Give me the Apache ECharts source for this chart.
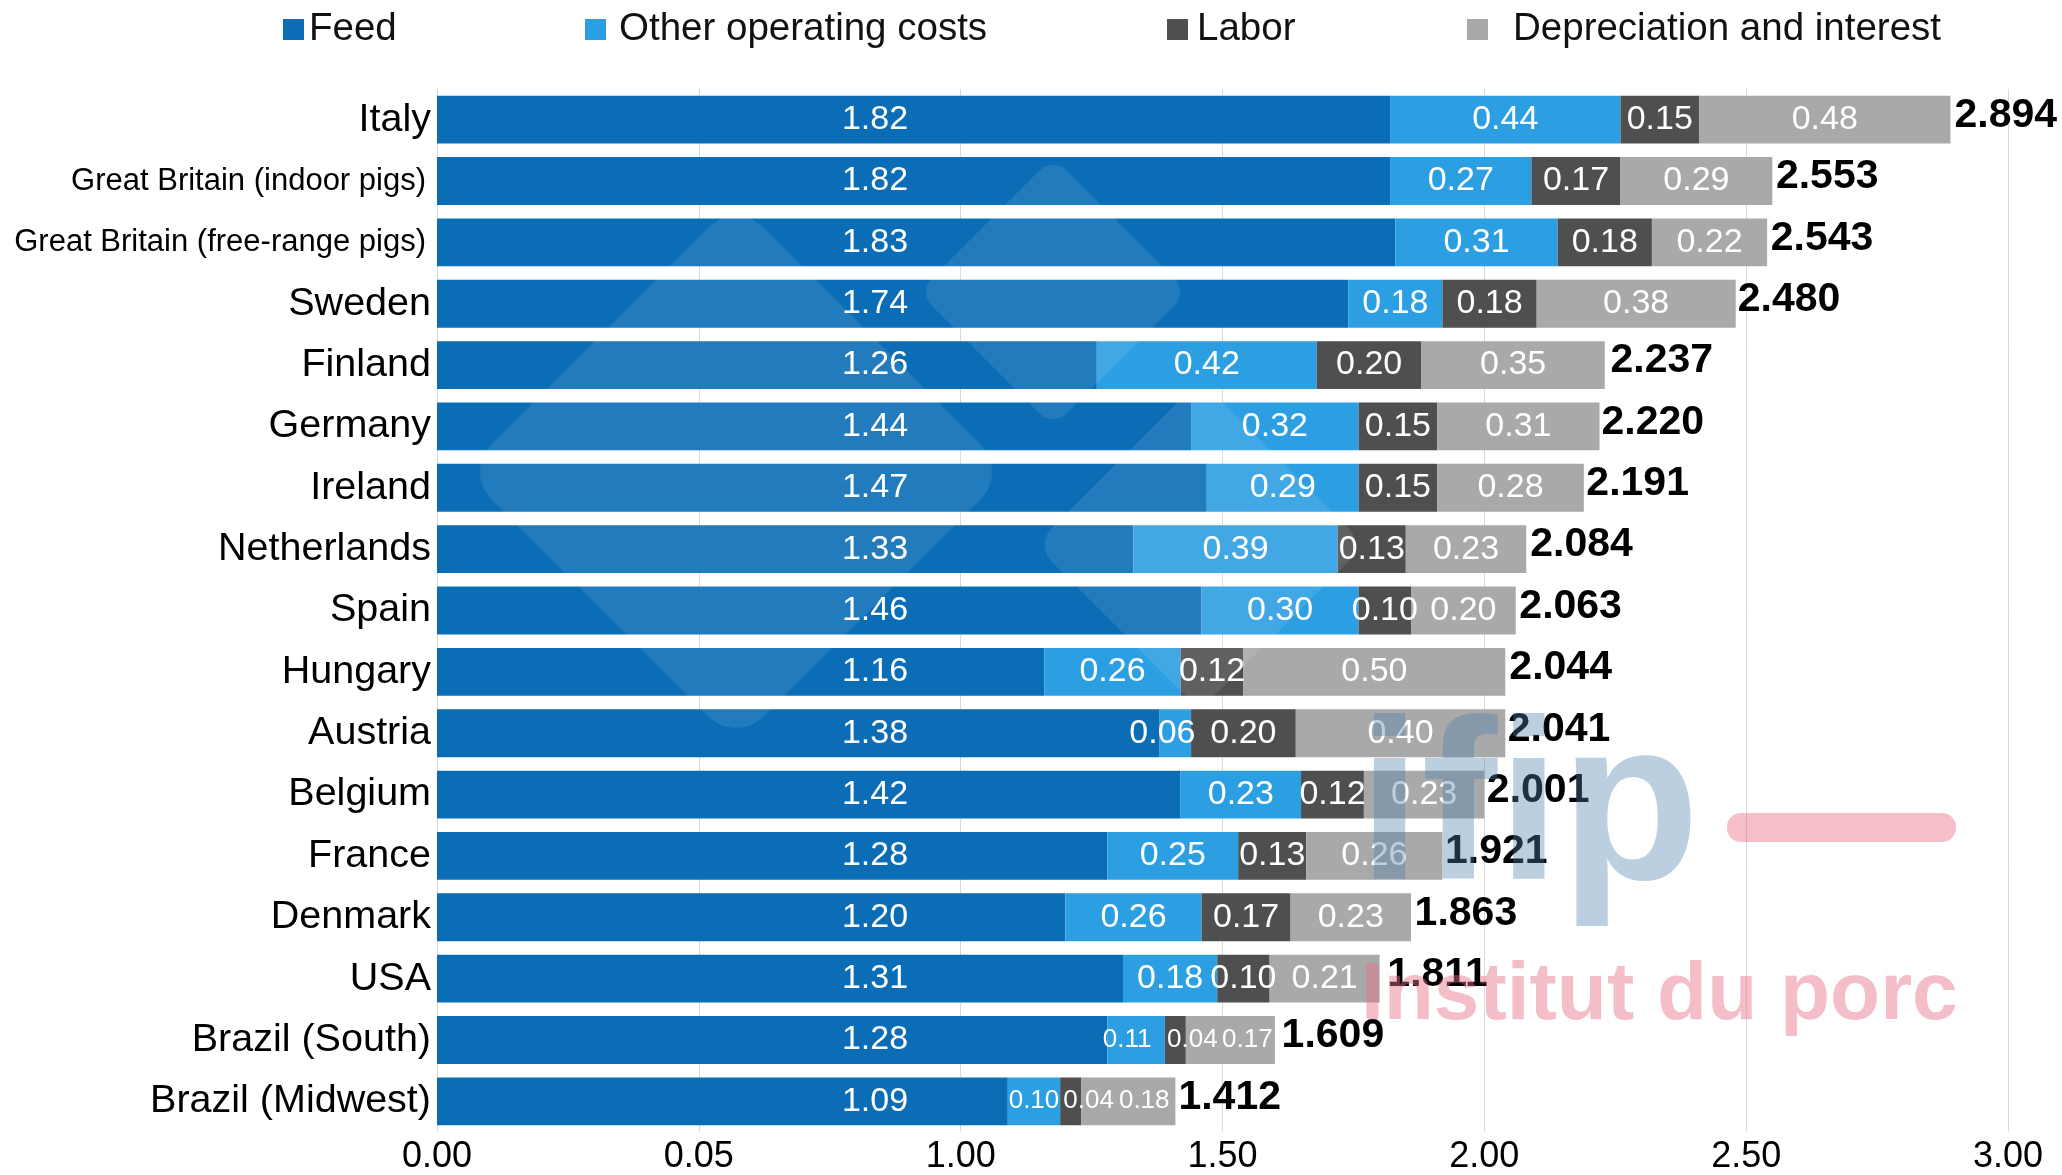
<!DOCTYPE html>
<html>
<head>
<meta charset="utf-8">
<script src="https://cdn.jsdelivr.net/npm/echarts@6/dist/echarts.min.js"></script>
<style>
  html, body { margin: 0; padding: 0; background: #ffffff; }
  #chart { width: 2062px; height: 1175px; }
</style>
</head>
<body>
<div id="chart"></div>
<script>
// Production cost of pork by country, stacked by cost component
const categories = [
  'Italy', 'Great Britain (indoor pigs)', 'Great Britain (free-range pigs)', 'Sweden',
  'Finland', 'Germany', 'Ireland', 'Netherlands', 'Spain', 'Hungary', 'Austria',
  'Belgium', 'France', 'Denmark', 'USA', 'Brazil (South)', 'Brazil (Midwest)'
];
const feed       = [1.82, 1.82, 1.83, 1.74, 1.26, 1.44, 1.47, 1.33, 1.46, 1.16, 1.38, 1.42, 1.28, 1.20, 1.31, 1.28, 1.09];
const otherCosts = [0.44, 0.27, 0.31, 0.18, 0.42, 0.32, 0.29, 0.39, 0.30, 0.26, 0.06, 0.23, 0.25, 0.26, 0.18, 0.11, 0.10];
const labor      = [0.15, 0.17, 0.18, 0.18, 0.20, 0.15, 0.15, 0.13, 0.10, 0.12, 0.20, 0.12, 0.13, 0.17, 0.10, 0.04, 0.04];
const deprec     = [0.48, 0.29, 0.22, 0.38, 0.35, 0.31, 0.28, 0.23, 0.20, 0.50, 0.40, 0.23, 0.26, 0.23, 0.21, 0.17, 0.18];
const totals     = [2.894, 2.553, 2.543, 2.480, 2.237, 2.220, 2.191, 2.084, 2.063, 2.044, 2.041, 2.001, 1.921, 1.863, 1.811, 1.609, 1.412];
const tickLabels = ['0.00', '0.05', '1.00', '1.50', '2.00', '2.50', '3.00'];

const seriesNames = ['Feed', 'Other operating costs', 'Labor', 'Depreciation and interest'];
const colors = ['#0a6db6', '#2c9fe2', '#4f4f4f', '#a9a9a9'];
const longNames = ['Great Britain (indoor pigs)', 'Great Britain (free-range pigs)'];
const compactRows = ['Brazil (South)', 'Brazil (Midwest)'];
// horizontal label shifts (px) where neighbouring segment labels would collide
const labelNudges = {
  'Austria': { 1: -13 },
  'Brazil (South)': { 1: -9, 2: 17, 3: 17 },
  'Brazil (Midwest)': { 2: 18, 3: 16 }
};

const FONT = "'Liberation Sans', Arial, sans-serif";

function segmentData(values, seriesIdx) {
  return values.map((v, i) => {
    const cat = categories[i];
    const label = {};
    if (seriesIdx > 0 && compactRows.includes(cat)) label.fontSize = 26;
    const dx = labelNudges[cat] && labelNudges[cat][seriesIdx];
    if (dx) label.offset = [dx, 0];
    return Object.keys(label).length ? { value: v, label: label } : v;
  });
}

function segmentSeries(idx, values, labelPos) {
  return {
    name: seriesNames[idx],
    type: 'bar',
    stack: 'cost',
    barCategoryGap: '22%',
    barGap: '-100%',
    itemStyle: { color: colors[idx] },
    label: {
      show: true,
      position: labelPos,
      align: 'center',
      verticalAlign: 'middle',
      color: '#ffffff',
      fontFamily: FONT,
      fontSize: 34,
      formatter: p => Number(p.value).toFixed(2)
    },
    emphasis: { disabled: true },
    data: segmentData(values, idx)
  };
}

// rounded diamond for the faint emblem behind the left half of the plot
function diamond(cx, cy, halfDiag) {
  const s = halfDiag * Math.SQRT2;
  return {
    type: 'rect', x: cx, y: cy, rotation: Math.PI / 4, z: 50, silent: true,
    shape: { x: -s / 2, y: -s / 2, width: s, height: s, r: s * 0.1 },
    style: { fill: 'rgba(255,255,255,0.10)' }
  };
}

const chart = echarts.init(document.getElementById('chart'), null, { renderer: 'canvas' });

function legendAt(name, left, textGap) {
  return {
    data: [name],
    left: left,
    top: 5,
    icon: 'rect',
    itemWidth: 21,
    itemHeight: 21,
    selectedMode: false,
    textStyle: { fontFamily: FONT, fontSize: 38.5, color: '#111', padding: [0, 0, 0, textGap] }
  };
}

chart.setOption({
  backgroundColor: '#ffffff',
  animation: false,
  color: colors,
  legend: [
    legendAt('Feed', 278, 0),
    legendAt('Other operating costs', 580, 8),
    legendAt('Labor', 1162, 4),
    legendAt('Depreciation and interest', 1462, 20)
  ],
  grid: { left: 437, right: 54, top: 89, bottom: 38, containLabel: false },
  xAxis: {
    type: 'value',
    min: 0,
    max: 3,
    interval: 0.5,
    axisLine: { show: false },
    axisTick: { show: false },
    splitLine: { show: true, lineStyle: { color: '#d9d9d9', width: 1 } },
    axisLabel: {
      color: '#000',
      fontFamily: FONT,
      fontSize: 36,
      margin: 7,
      formatter: v => tickLabels[Math.round(v / 0.5)]
    }
  },
  yAxis: {
    type: 'category',
    inverse: true,
    data: categories,
    axisLine: { show: false },
    axisTick: { show: false },
    axisLabel: {
      margin: 6,
      color: '#000',
      fontFamily: FONT,
      formatter: v => longNames.includes(v) ? '{s|' + v + '}' : '{b|' + v + '}',
      rich: {
        b: { fontFamily: FONT, fontSize: 39.5, color: '#000' },
        s: { fontFamily: FONT, fontSize: 31, color: '#000', padding: [0, 5, 0, 0] }
      }
    }
  },
  series: [
    segmentSeries(0, feed, [438, '50%']),
    segmentSeries(1, otherCosts, 'inside'),
    segmentSeries(2, labor, 'inside'),
    segmentSeries(3, deprec, 'inside'),
    {
      name: 'Total',
      type: 'bar',
      barGap: '-100%',
      barCategoryGap: '22%',
      itemStyle: { color: 'rgba(0,0,0,0)' },
      emphasis: { disabled: true },
      silent: true,
      z: 3,
      label: {
        show: true,
        position: 'right',
        distance: 2,
        offset: [0, -4],
        color: '#000',
        fontFamily: FONT,
        fontWeight: 'bold',
        fontSize: 41,
        formatter: p => Number(p.value).toFixed(3)
      },
      data: totals
    }
  ],
  graphic: [
    diamond(736, 472, 272),
    diamond(1053, 292, 135),
    diamond(1200, 545, 165),
    // publisher mark drawn over the plot
    {
      type: 'text', left: 1358, top: 702, z: 100, silent: true,
      style: { text: 'ifip', fontFamily: FONT, fontWeight: 'bold', fontSize: 228, fill: 'rgba(80,130,175,0.38)' }
    },
    {
      type: 'rect', left: 1727, top: 813, z: 100, silent: true,
      shape: { width: 229, height: 29, r: 14 },
      style: { fill: 'rgba(232,110,135,0.45)' }
    },
    {
      type: 'text', left: 1361, top: 955, z: 100, silent: true,
      style: { text: 'Institut du porc', fontFamily: FONT, fontWeight: 'bold', fontSize: 82, fill: 'rgba(230,110,135,0.45)' }
    }
  ]
});
</script>
</body>
</html>
